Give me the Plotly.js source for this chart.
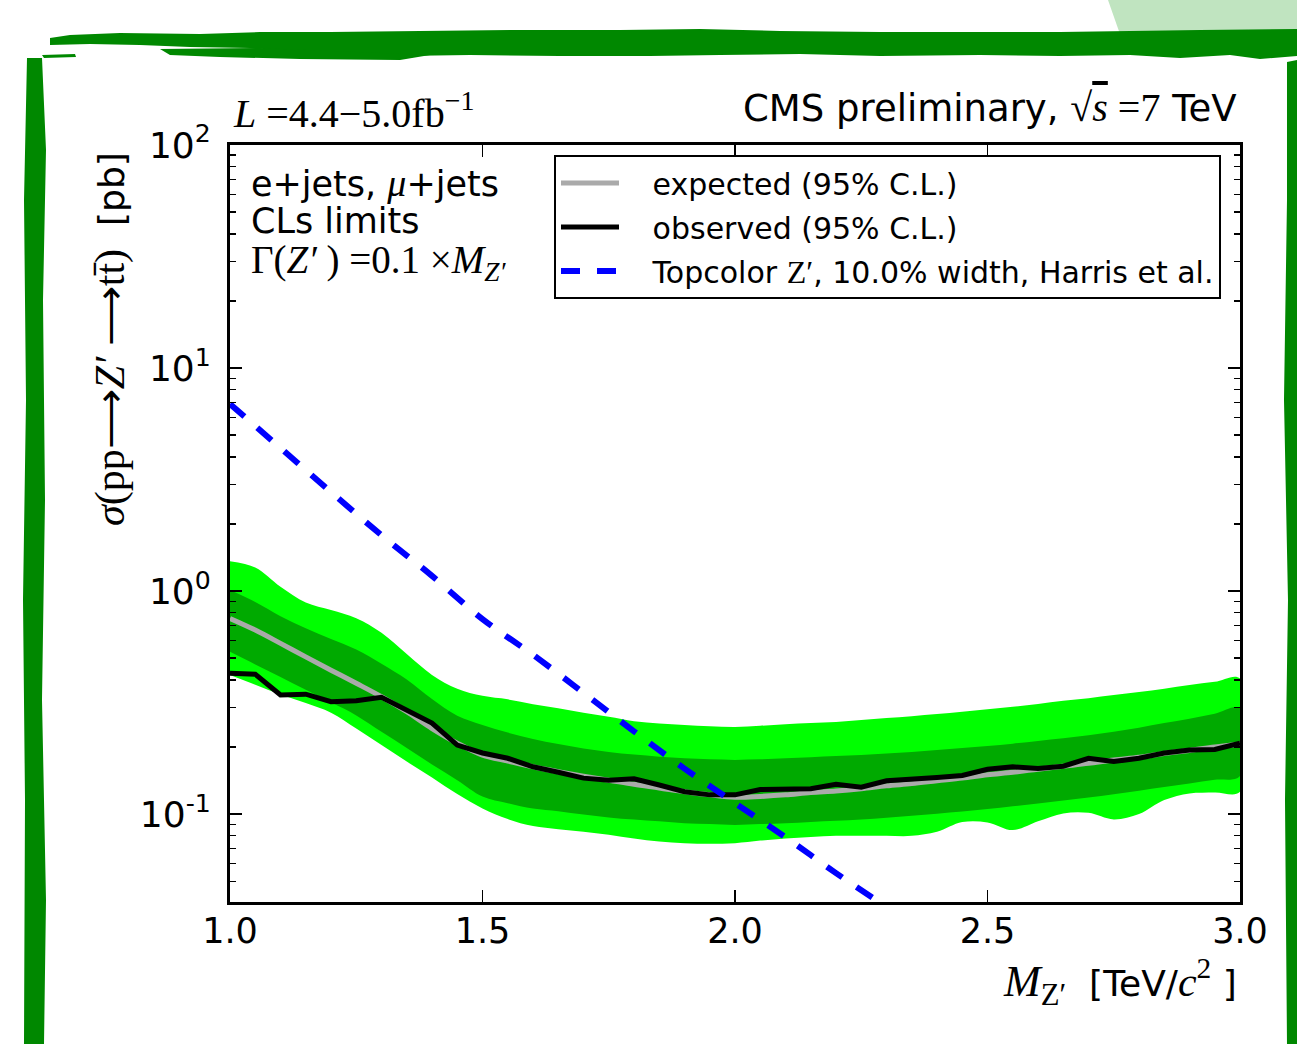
<!DOCTYPE html>
<html>
<head>
<meta charset="utf-8">
<script src="https://cdn.plot.ly/plotly-3.0.1.min.js"></script>
<style>html,body{margin:0;padding:0;background:#fff;}#chart{width:1297px;height:1044px;}</style>
</head>
<body>
<div id="chart"></div>
<script>
// ---------------- data ----------------
const mass = [1.00,1.05,1.10,1.15,1.20,1.25,1.30,1.35,1.40,1.45,1.50,1.55,1.60,1.65,1.70,1.75,1.80,1.85,1.90,1.95,2.00,
              2.05,2.10,2.15,2.20,2.25,2.30,2.35,2.40,2.45,2.50,2.55,2.60,2.65,2.70,2.75,2.80,2.85,2.90,2.95,3.00];

const expected = [0.754,0.669,0.583,0.507,0.442,0.386,0.336,0.288,0.242,0.208,0.184,0.173,0.163,0.155,0.148,0.142,0.136,0.131,0.126,0.122,0.119,
                  0.120,0.122,0.125,0.127,0.130,0.134,0.137,0.141,0.145,0.150,0.154,0.159,0.164,0.169,0.175,0.180,0.187,0.193,0.200,0.206];

const observed = [0.428,0.424,0.342,0.345,0.319,0.322,0.334,0.293,0.256,0.204,0.188,0.178,0.163,0.154,0.145,0.142,0.144,0.135,0.126,0.122,0.122,
                  0.129,0.129,0.130,0.136,0.132,0.141,0.143,0.146,0.149,0.159,0.163,0.160,0.164,0.178,0.172,0.178,0.188,0.194,0.195,0.208];

const sigma1Up = [1.010,0.893,0.772,0.682,0.610,0.547,0.472,0.401,0.328,0.276,0.251,0.232,0.217,0.206,0.197,0.190,0.185,0.181,0.178,0.176,0.175,
                  0.176,0.178,0.180,0.182,0.184,0.187,0.190,0.194,0.198,0.202,0.207,0.213,0.219,0.226,0.234,0.244,0.256,0.268,0.282,0.298];

const sigma1Dn = [0.534,0.469,0.412,0.361,0.317,0.277,0.234,0.198,0.167,0.142,0.120,0.112,0.106,0.103,0.0995,0.0966,0.0945,0.0928,0.0911,0.0902,0.0893,
                  0.0902,0.0911,0.0923,0.0934,0.0947,0.0964,0.0983,0.1005,0.1028,0.1053,0.1084,0.1117,0.1151,0.1188,0.1229,0.1273,0.1322,0.1372,0.1425,0.1481];

const sigma2Up = [1.360,1.275,1.045,0.888,0.822,0.756,0.650,0.522,0.421,0.365,0.339,0.327,0.311,0.298,0.285,0.273,0.261,0.255,0.251,0.248,0.246,
                  0.249,0.253,0.256,0.259,0.264,0.270,0.275,0.281,0.288,0.295,0.303,0.312,0.322,0.331,0.342,0.353,0.365,0.379,0.392,0.406];

const sigma2Dn = [0.420,0.380,0.344,0.315,0.285,0.242,0.204,0.172,0.146,0.123,0.106,0.0950,0.0884,0.0856,0.0834,0.0809,0.0778,0.0753,0.0741,0.0737,0.0741,
                  0.0761,0.0778,0.0790,0.0799,0.0799,0.0799,0.0799,0.0833,0.0921,0.0918,0.0848,0.0928,0.1007,0.1013,0.0947,0.1000,0.1156,0.1238,0.1251,0.1259];

const topcolorMass = [1.0,1.1,1.2,1.3,1.4,1.5,1.6,1.7,1.8,1.9,2.0,2.1,2.2,2.3];
const topcolorXsec = [6.90,4.38,2.78,1.78,1.17,0.749,0.518,0.350,0.235,0.160,0.112,0.0788,0.0544,0.0383];

const xTickVals = [1.0,1.5,2.0,2.5,3.0];
const xTickText = ['1.0','1.5','2.0','2.5','3.0'];
const yTickVals = [0.1,1,10,100];
const yTickText = ['10<sup>-1</sup>','10<sup>0</sup>','10<sup>1</sup>','10<sup>2</sup>'];
const yMinorVals = [0.05,0.06,0.07,0.08,0.09,0.2,0.3,0.4,0.5,0.6,0.7,0.8,0.9,2,3,4,5,6,7,8,9,20,30,40,50,60,70,80,90];

// ---------------- layout helpers ----------------
const W = 1297, H = 1044, ML = 230, MR = 57, MT = 145, MB = 142;
const PW = W - ML - MR, PH = H - MT - MB;
const X = px => (px - ML) / PW;
const Y = py => (H - MB - py) / PH;
const poly = pts => 'M' + pts.map(p => X(p[0]).toFixed(5) + ',' + Y(p[1]).toFixed(5)).join('L') + 'Z';
const SERIF = 'Liberation Serif';
const SANS = 'DejaVu Sans';
const serif = (t, size, italic) => '<span style="font-family:' + SERIF + (size ? ';font-size:' + size + 'px' : '') +
                                   (italic ? ';font-style:italic' : '') + '">' + t + '</span>';
const NB = '\u00a0\u00a0\u00a0';

const rev = a => a.slice().reverse();

const traces = [
  {x: mass.concat(rev(mass)), y: sigma2Up.concat(rev(sigma2Dn)), type:'scatter', mode:'lines',
   fill:'toself', fillcolor:'#00ff00', line:{width:0, shape:'spline', smoothing:1}, showlegend:false, hoverinfo:'skip'},
  {x: mass.concat(rev(mass)), y: sigma1Up.concat(rev(sigma1Dn)), type:'scatter', mode:'lines',
   fill:'toself', fillcolor:'#00aa00', line:{width:0, shape:'spline', smoothing:1}, showlegend:false, hoverinfo:'skip'},
  {x: mass, y: expected, type:'scatter', mode:'lines', name: NB + 'expected (95% C.L.)', legendgroup:'a',
   line:{color:'#aaaaaa', width:5, shape:'spline'}},
  {x: mass, y: observed, type:'scatter', mode:'lines', name: NB + 'observed (95% C.L.)', legendgroup:'b',
   line:{color:'#000000', width:5}},
  {x: topcolorMass, y: topcolorXsec, type:'scatter', mode:'lines', legendgroup:'c',
   name: NB + 'Topcolor ' + serif('Z′', 32) + ', 10.0% width, Harris et al.',
   line:{color:'#0000ff', width:6, dash:'19px,17px', shape:'spline'}}
];

const green = 'rgb(0,136,0)';
const shapes = [
  {type:'path', xref:'paper', yref:'paper', layer:'below', fillcolor:'rgb(192,228,192)', line:{width:0},
   path: poly([[1108,0],[1297,0],[1297,33],[1121,37]])},
  {type:'path', xref:'paper', yref:'paper', layer:'below', fillcolor:green, line:{width:0},
   path: poly([[50,38],[70,35],[120,33],[200,34],[260,32],[330,32],[420,31],[520,30],[620,30],[700,29],[780,31],[880,32],
               [980,32],[1060,32],[1130,31],[1200,30],[1297,29],
               [1297,56],[1260,59],[1230,55],[1180,58],[1130,55],[1060,56],[980,55],[880,56],[800,54],[720,55],[650,56],
               [560,56],[470,55],[400,56],[330,53],[290,51],[250,48],[190,47],[140,45],[90,44],[50,45]])},
  {type:'path', xref:'paper', yref:'paper', layer:'below', fillcolor:green, line:{width:0},
   path: poly([[160,49],[260,48],[330,51],[430,55],[400,60],[300,59],[220,57],[170,55]])},
  {type:'path', xref:'paper', yref:'paper', layer:'below', fillcolor:green, line:{width:0},
   path: poly([[42,55],[75,54],[76,57],[44,58]])},
  {type:'path', xref:'paper', yref:'paper', layer:'below', fillcolor:green, line:{width:0},
   path: poly([[27,58],[24,200],[26,400],[23,600],[25,800],[24,1044],[44,1044],[46,900],[42,700],[45,500],[43,300],[46,150],[42,58]])},
  {type:'path', xref:'paper', yref:'paper', layer:'below', fillcolor:green, line:{width:0},
   path: poly([[1287,62],[1297,60],[1297,1044],[1287,1044],[1285,800],[1288,600],[1284,400],[1287,200]])}
];

const annotations = [
  {xref:'paper', yref:'paper', x:X(231), y:Y(110), xanchor:'left', yanchor:'middle', showarrow:false,
   text:'<i>L</i> =4.4−5.0fb<sup>−1</sup>', font:{family:SERIF, size:40, color:'black'}},
  {xref:'paper', yref:'paper', x:X(1239), y:Y(107), xanchor:'right', yanchor:'middle', showarrow:false,
   text:'CMS preliminary, ' + serif('√', 40) +
        '<span style="font-family:' + SERIF + ';font-size:40px;font-style:italic;text-decoration:overline">s</span>' +
        serif(' =7', 40) + ' TeV',
   font:{family:SANS, size:37, color:'black'}},
  {xref:'paper', yref:'paper', x:X(249), y:Y(183), xanchor:'left', yanchor:'middle', showarrow:false,
   text:'e+jets, ' + serif('μ', 38, true) + '+jets', font:{family:SANS, size:35, color:'black'}},
  {xref:'paper', yref:'paper', x:X(249), y:Y(221), xanchor:'left', yanchor:'middle', showarrow:false,
   text:'CLs limits', font:{family:SANS, size:35, color:'black'}},
  {xref:'paper', yref:'paper', x:X(249), y:Y(262), xanchor:'left', yanchor:'middle', showarrow:false,
   text:'Γ(<i>Z′</i> ) =0.1 ×<i>M</i><sub><i>Z′</i></sub>', font:{family:SERIF, size:39, color:'black'}},
  {xref:'paper', yref:'paper', x:X(1239), y:Y(982), xanchor:'right', yanchor:'middle', showarrow:false,
   text: serif('<i>M</i><sub>Z′</sub>', 44) + '  [TeV/' + serif('<i>c</i><sup>2</sup>', 42) + ' ]',
   font:{family:SANS, size:36, color:'black'}},
  {xref:'paper', yref:'paper', x:X(110), y:Y(339), xanchor:'center', yanchor:'middle', showarrow:false, textangle:-90,
   text: serif('<i>σ</i>(pp⟶<i>Z′</i> ⟶tt̄)', 42) + '  [pb]',
   font:{family:SANS, size:36, color:'black'}}
];

const layout = {
  width: W, height: H, autosize:false,
  margin:{l:ML, r:MR, t:MT, b:MB, pad:0},
  paper_bgcolor:'white', plot_bgcolor:'white',
  showlegend:true,
  legend:{x:X(554), y:Y(155), xanchor:'left', yanchor:'top', bgcolor:'white', bordercolor:'black', borderwidth:2,
          font:{family:SANS, size:30, color:'black'}, traceorder:'grouped', tracegroupgap:2, itemwidth:58},
  xaxis:{range:[1,3], tickmode:'array', tickvals:xTickVals, ticktext:xTickText, ticks:'inside', ticklen:12, tickwidth:1.5,
         tickcolor:'black', showline:true, linewidth:3, linecolor:'black', mirror:'ticks', showgrid:false, zeroline:false,
         tickfont:{family:SANS, size:35, color:'black'}, ticklabelstandoff:-4},
  yaxis:{type:'log', range:[-1.394,2], tickmode:'array', tickvals:yTickVals, ticktext:yTickText, ticks:'inside', ticklen:12,
         tickwidth:1.5, tickcolor:'black', showline:true, linewidth:3, linecolor:'black', mirror:'ticks', showgrid:false,
         zeroline:false, tickfont:{family:SANS, size:36, color:'black'}, ticklabelstandoff:9,
         minor:{tickmode:'array', tickvals:yMinorVals, ticks:'inside', ticklen:6, tickwidth:1.5, tickcolor:'black', showgrid:false}},
  shapes: shapes,
  annotations: annotations
};

Plotly.newPlot('chart', traces, layout, {displayModeBar:false, staticPlot:true});
</script>
</body>
</html>
